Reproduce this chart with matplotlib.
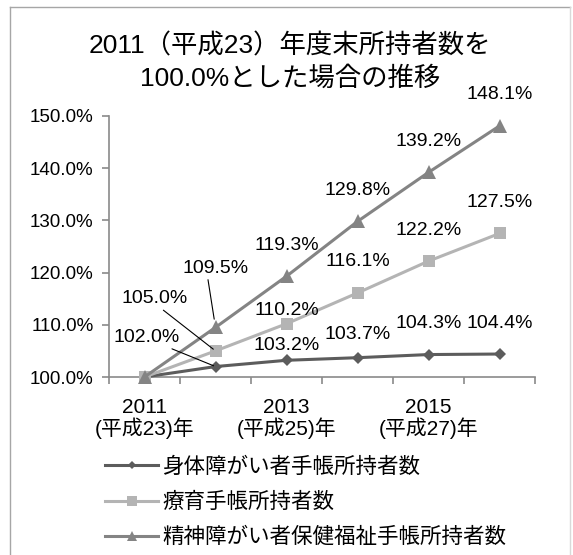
import matplotlib
matplotlib.use("Agg")
import matplotlib.pyplot as plt
from matplotlib.lines import Line2D

plt.rcParams['font.family'] = ['Liberation Sans', 'Noto Sans CJK JP']

# ---- data -------------------------------------------------------------
years = [2011, 2012, 2013, 2014, 2015, 2016]
tick_positions = [0, 2, 4]
tick_labels = ['2011\n(平成23)年', '2013\n(平成25)年', '2015\n(平成27)年']
series_names = ['身体障がい者手帳所持者数',
                '療育手帳所持者数',
                '精神障がい者保健福祉手帳所持者数']
physical = [100.0, 102.0, 103.2, 103.7, 104.3, 104.4]
rehab = [100.0, 105.0, 110.2, 116.1, 122.2, 127.5]
mental = [100.0, 109.5, 119.3, 129.8, 139.2, 148.1]
y_ticks = [100, 110, 120, 130, 140, 150]
title_lines = ['2011（平成23）年度末所持者数を', '100.0%とした場合の推移']

# ---- styles -----------------------------------------------------------
styles = [
    dict(color='#5c5c5c', marker='D', ms=6.0),
    dict(color='#b4b4b4', marker='s', ms=9.0),
    dict(color='#848484', marker='^', ms=10.0),
]
# label placement in pixels relative to each point (dx, dy)
default_off = (0, 31)
label_off = {
    (0, 1): (-69, 29), (1, 1): (-61, 52), (2, 1): (0, 59),
    (0, 2): (0, 15), (1, 2): (0, 13), (2, 2): (0, 31),
    (0, 3): (0, 23),
}
# leader line: (relpos on label, shrink at point in pt)
leaders = {(0, 1): ((0.75, 0.05), 1.5), (1, 1): ((0.58, 0.0), 2.0),
           (2, 1): ((0.38, 0.0), 6.0)}

W, H = 573, 555
fig = plt.figure(figsize=(W / 100, H / 100), dpi=100)
ax = fig.add_axes([109 / W, 1 - 377 / H, (535 - 109) / W, (377 - 116) / H])

x = list(range(len(years)))
all_series = [physical, rehab, mental]
for si, (vals, st) in enumerate(zip(all_series, styles)):
    ax.plot(x, vals, color=st['color'], lw=2.2, marker=st['marker'],
            ms=st['ms'], markeredgewidth=0, zorder=3 + si, clip_on=False)
    for i, v in enumerate(vals):
        if i == 0:
            continue
        off = label_off.get((si, i), default_off)
        kw = {}
        if (si, i) in leaders:
            rp, shr = leaders[(si, i)]
            kw['arrowprops'] = dict(arrowstyle='-', color='black', lw=0.8,
                                    shrinkA=0, shrinkB=shr, relpos=rp)
        ax.annotate(f'{v:.1f}%', (i, v), xytext=off, textcoords='offset pixels',
                    ha='center', va='center', fontsize=14, color='black',
                    zorder=10, **kw)

ax.set_xlim(-0.5, len(years) - 0.5)
ax.set_ylim(100, 150)
ax.set_yticks(y_ticks)
ax.set_yticklabels([f'{t:.1f}%' for t in y_ticks])
ax.set_xticks(tick_positions)
ax.set_xticklabels(tick_labels, linespacing=1.05)
ax.set_xticks([p - 0.5 for p in range(len(years) + 1)], minor=True)

axis_col = '#8a8a8a'
for s in ['top', 'right']:
    ax.spines[s].set_visible(False)
for s in ['left', 'bottom']:
    ax.spines[s].set_color(axis_col)
    ax.spines[s].set_linewidth(1.2)
ax.tick_params(axis='y', length=5, width=1.2, color=axis_col, pad=6,
               labelsize=13.5)
ax.tick_params(axis='x', which='major', length=0, pad=15, labelsize=15)
ax.tick_params(axis='x', which='minor', length=5, width=1.2, color=axis_col)

# two-line title, one text per line
for line, yc in zip(title_lines, [46, 79]):
    fig.text(290 / W, 1 - yc / H, line, ha='center', va='center',
             fontsize=19)

handles = [Line2D([], [], color=st['color'], lw=2.2, marker=st['marker'],
                  ms=st['ms'] * 0.75, markeredgewidth=0) for st in styles]
fig.legend(handles, series_names, loc='upper left',
           bbox_to_anchor=(105 / W, 1 - 457 / H), frameon=False,
           fontsize=15.5, handlelength=2.47, handletextpad=0.2,
           labelspacing=0.66, borderpad=0, borderaxespad=0)

# chart frame
frame_col = '#a6a6a6'
fig.add_artist(Line2D([10 / W, 10 / W], [0, 1 - 7 / H], color=frame_col,
                      lw=1, transform=fig.transFigure))
fig.add_artist(Line2D([10 / W, 570 / W], [1 - 7 / H, 1 - 7 / H],
                      color=frame_col, lw=1, transform=fig.transFigure))
fig.add_artist(Line2D([570 / W, 570 / W], [0, 1 - 7 / H], color='#d9d9d9',
                      lw=1, transform=fig.transFigure))

fig.savefig('out.png', dpi=100, facecolor='white')
